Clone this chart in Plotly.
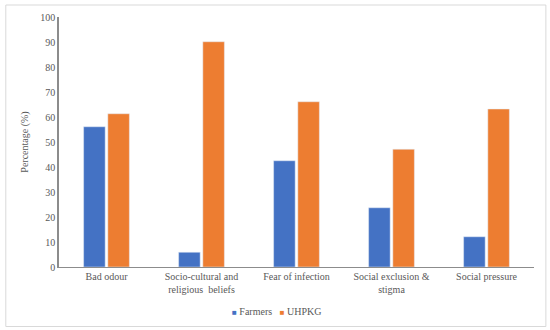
import plotly.graph_objects as go

categories = ["Bad odour", "Socio-cultural and<br>religious  beliefs", "Fear of infection",
              "Social exclusion &<br>stigma", "Social pressure"]
series_names = ["Farmers", "UHPKG"]
farmers = [56.1, 5.9, 42.5, 23.7, 12.1]
uhpkg = [61.3, 90.1, 66.1, 47.1, 63.2]
y_ticks = [0, 10, 20, 30, 40, 50, 60, 70, 80, 90, 100]
colors = ["#4472C4", "#ED7D31"]

fam = "Liberation Serif, Times New Roman, serif"
font = dict(family=fam, color="#595959", size=10)

fig = go.Figure()
fig.add_trace(go.Bar(name=series_names[0], x=categories, y=farmers, marker_color=colors[0]))
fig.add_trace(go.Bar(name=series_names[1], x=categories, y=uhpkg, marker_color=colors[1]))

legend_text = "&nbsp;&nbsp;&nbsp;".join(
    f"<span style='color:{c};font-size:8px'>■</span>&nbsp;{n}" for n, c in zip(series_names, colors)
)

fig.update_layout(
    width=550, height=330,
    margin=dict(l=59, r=16, t=17, b=63),
    paper_bgcolor="white", plot_bgcolor="white",
    font=font,
    barmode="group", bargap=0.49, bargroupgap=0.11,
    showlegend=False,
    xaxis=dict(showline=True, linecolor="#8c8c8c", linewidth=1, ticks="",
               tickfont=dict(size=10), showgrid=False, automargin=False),
    yaxis=dict(range=[0, 100], tickvals=y_ticks, showline=True, linecolor="#8c8c8c",
               linewidth=1.5, ticks="", showgrid=False, zeroline=False,
               tickfont=dict(size=10), automargin=True,
               title=dict(text="Percentage (%)", font=dict(size=10), standoff=10)),
    annotations=[dict(text=legend_text, xref="paper", yref="paper", x=0.457, y=-0.179,
                      xanchor="center", yanchor="middle", showarrow=False,
                      font=dict(size=10, family=fam, color="#595959"))],
    shapes=[dict(type="rect", xref="paper", yref="paper", x0=-0.112, x1=1.025,
                 y0=-0.238, y1=1.048, line=dict(color="#d9d9d9", width=1),
                 fillcolor="rgba(0,0,0,0)", layer="below")],
)

fig.write_html("out.html", config={"displayModeBar": False},
               post_script="document.body.style.margin='0';")
